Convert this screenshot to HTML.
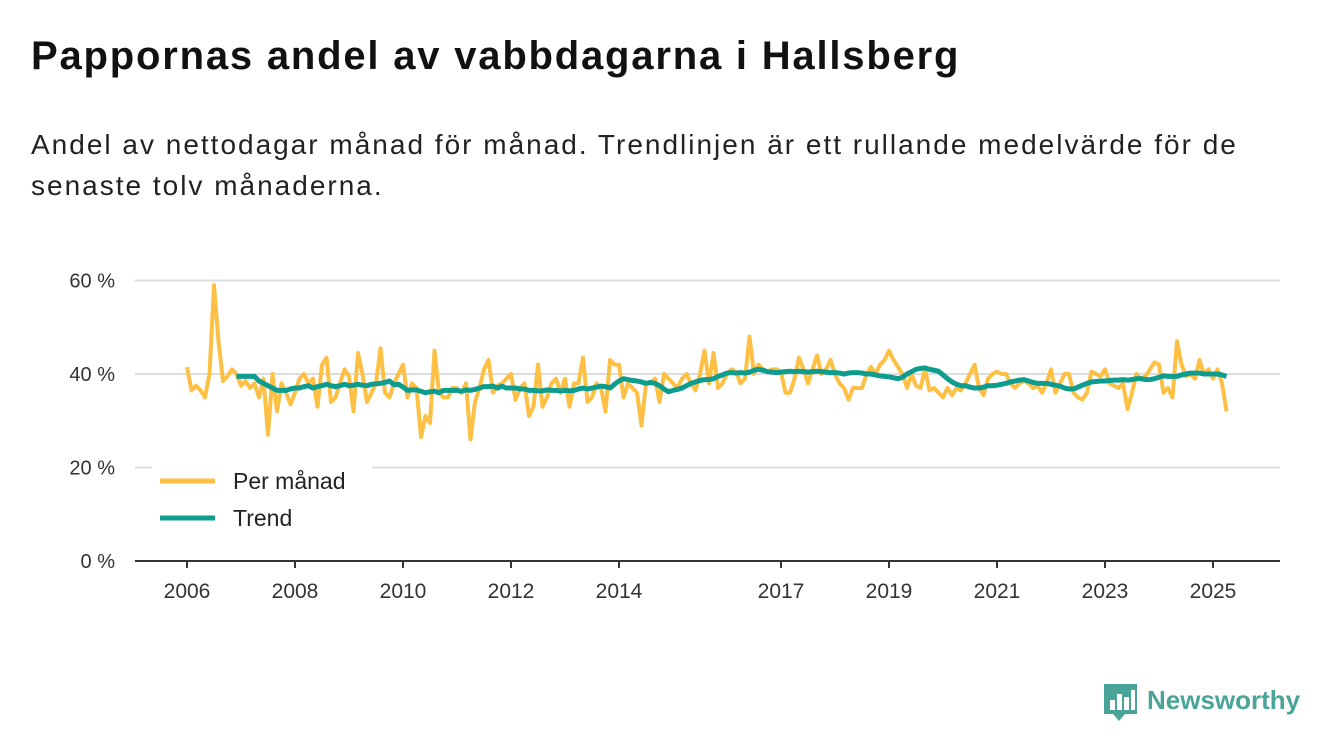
<!DOCTYPE html>
<html><head><meta charset="utf-8"><style>
body{margin:0;width:1340px;height:753px;background:#fff;font-family:"Liberation Sans",sans-serif;overflow:hidden;position:relative}
h1{position:absolute;left:31px;top:34px;margin:0;font-size:40px;font-weight:bold;color:#111;letter-spacing:1.8px}
.sub{position:absolute;left:31px;top:124px;margin:0;font-size:28px;line-height:41px;color:#222;width:1300px;letter-spacing:2px;white-space:nowrap}
svg{position:absolute;left:0;top:0}
</style></head><body>
<h1>Pappornas andel av vabbdagarna i Hallsberg</h1>
<p class="sub">Andel av nettodagar månad för månad. Trendlinjen är ett rullande medelvärde för de<br>senaste tolv månaderna.</p>
<svg id="c" width="1340" height="753"></svg>
<script>
const monthly=[41.5,36.5,37.5,36.5,35,40,59,47,38.5,39.5,41,40,
37.5,38.5,37,38,35,39,27,40,32,38,36,33.5,
36,39,40,38,39,33,42,43.5,34,35,38,41,
39.5,32,44.5,40,34,36,38,45.5,36,35,38,40,
42,35,38,37,26.5,31,29.5,45,36,35,35,37,
37,36,38,26,34,37,41,43,36,37.5,38,39,
40,34.5,37,38,31,33,42,33,35,38,39,36,
39,33,38,38,43.5,34,35,38,37,32,43,42,
42,35,38,37,36,29,38,38,39,34,40,39,38,37,39,40,38,
36.5,40,45,38,44.5,37,38,40,41,40.5,38,39,
48,40,42,41,40.5,41,41,40.5,36,36,39,43.5,
41,38,41,44,40,41,43,40,38,37,34.5,37,
37,37,40,41.5,40,42,43,45,43,41.5,40,37,
40,37.5,37,41,36.5,37,36,35,37,35.5,37,36.5,
38,40,42,37,35.5,39,40,40.5,40,40,38,37,
38,38.5,38,37,37.5,36,38,41,36,38,40,40,
36,35,34.5,36,40.5,40,39.5,
41,38,37.5,37,38,32.5,36,40,39,39.5,41,42.5,
42,36,37,35,47,42,39.5,40,39,43,40,41,
39,41,38,32];
const trendStart=11;
const trend=[39.5,
39.5,39.5,39.5,39.5,38.5,38,37.5,37,36.5,36.5,36.5,36.8,
37,37,37.3,37.5,37,37.3,37.5,37.8,37.5,37.3,37.5,37.8,
37.5,37.6,37.8,37.6,37.5,37.8,37.9,38,38.2,38.5,37.7,37.8,
37.2,36.5,36.6,36.6,36.3,36,36.2,36.3,36,36.5,36.5,36.5,
36.5,36.3,36.6,36.5,36.7,37,37.3,37.3,37.4,37,37.4,37,
37,37,36.8,36.8,36.5,36.5,36.4,36.4,36.6,36.5,36.5,36.4,
36.5,36.4,36.5,36.8,37,36.8,37,37.2,37.4,37.3,37,37.8,
38.5,39,38.8,38.6,38.5,38.3,38,38.2,38,37.5,36.8,36.2,
36.5,36.7,37,37.5,38,38.3,38.6,38.8,38.8,39,39.5,39.8,
40.2,40.3,40.2,40.3,40.2,40.4,40.8,41,40.8,40.5,40.4,40.3,
40.4,40.5,40.6,40.5,40.6,40.5,40.4,40.5,40.6,40.5,40.4,40.3,
40.3,40.2,40,40.2,40.3,40.3,40.2,40,40,39.8,39.6,39.5,
39.4,39.2,39,39.3,40,40.5,41,41.2,41.3,41,40.8,40.6,
39.8,39,38.3,37.8,37.5,37.5,37.2,37,37,37.2,37.5,37.5,
37.6,37.8,38,38.3,38.5,38.7,38.8,38.5,38.2,38,38,38,
37.8,37.6,37.4,37,36.8,36.8,37.2,37.6,38,38.3,38.4,38.5,
38.5,38.6,38.7,38.7,38.8,38.7,38.8,39,39,38.8,38.8,39,
39.3,39.6,39.5,39.5,39.5,39.8,40,40.2,40.2,40.2,40,40,
40,40,39.8,39.5];
const yTicks=[0,20,40,60];
const xTickYears=[2006,2008,2010,2012,2014,2017,2019,2021,2023,2025];
const NS='http://www.w3.org/2000/svg',svg=document.getElementById('c');
const x=i=>187+i*4.5, xy=yr=>187+(yr-2006)*54, y=v=>561-v*4.675;
function mk(t,a,p){const e=document.createElementNS(NS,t);for(const k in a)e.setAttribute(k,a[k]);(p||svg).appendChild(e);return e;}
yTicks.forEach(v=>{
 if(v>0){const g=mk('line',{x1:135,x2:1280,y1:y(v),y2:y(v),stroke:'#ddd','stroke-width':2});
 
 }
 const t=mk('text',{x:115,y:y(v)+7,'text-anchor':'end','font-size':20,fill:'#333','font-family':'Liberation Sans'});
 t.textContent=v+' %';
 
 
});
const ax=mk('line',{x1:135,x2:1280,y1:561,y2:561,stroke:'#333','stroke-width':2});


xTickYears.forEach(yr=>{
 const tk=mk('line',{x1:xy(yr),x2:xy(yr),y1:561,y2:568,stroke:'#333','stroke-width':2});
 
 
 const t=mk('text',{x:xy(yr),y:598,'text-anchor':'middle','font-size':21,fill:'#333','font-family':'Liberation Sans'});
 t.textContent=yr;
 
 
});
const pm=mk('polyline',{points:monthly.map((v,i)=>x(i)+','+y(v)).join(' '),fill:'none',stroke:'#fdc045','stroke-width':4,'stroke-linejoin':'round'});


const tr=mk('polyline',{points:trend.map((v,i)=>x(i+trendStart)+','+y(v)).join(' '),fill:'none',stroke:'#0e9c8e','stroke-width':5,'stroke-linejoin':'round'});


const lg=mk('g',{});


mk('rect',{x:152,y:462,width:220,height:80,fill:'#fff'},lg);
[['Per månad','#fdc045',481],['Trend','#0e9c8e',518]].forEach(([n,c,yy])=>{
 mk('line',{x1:160,x2:215,y1:yy,y2:yy,stroke:c,'stroke-width':5},lg);
 const t=mk('text',{x:233,y:yy+8,'font-size':23,fill:'#222','font-family':'Liberation Sans'},lg);
 t.textContent=n;
 
 
});
const logo=mk('g',{});


mk('path',{d:'M1104 684h33v30h-12l-6 7-6-7h-9z',fill:'#4aa497'},logo);
[[1110,700,5,10],[1117,694,5,16],[1124,697,5,13],[1131,690,4,20]].forEach(r=>mk('rect',{x:r[0],y:r[1],width:r[2],height:r[3],fill:'#fff'},logo));
const lt=mk('text',{x:1147,y:709,'font-size':26,'font-weight':'bold',fill:'#4aa497','font-family':'Liberation Sans'},logo);
lt.textContent='Newsworthy';
</script>
</body></html>
